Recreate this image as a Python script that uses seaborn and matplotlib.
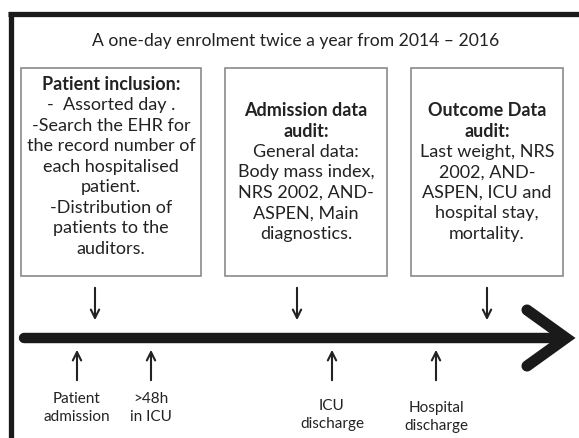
import matplotlib
matplotlib.use("Agg")
import matplotlib.pyplot as plt
import seaborn as sns

# text content of the diagram
title = "A one-day enrolment twice a year from 2014 \u2013 2016"

box_headings = [
    ["Patient inclusion:"],
    ["Admission data", "audit:"],
    ["Outcome Data", "audit:"],
]
box_bodies = [
    ["-  Assorted day .", "-Search the EHR for", "the record number of",
     "each hospitalised", "patient.", "-Distribution of",
     "patients to the", "auditors."],
    ["General data:", "Body mass index,", "NRS 2002, AND-",
     "ASPEN, Main", "diagnostics."],
    ["Last weight, NRS", "2002, AND-", "ASPEN, ICU and",
     "hospital stay,", "mortality."],
]
events = ["Patient\nadmission", ">48h\nin ICU", "ICU\ndischarge", "Hospital\ndischarge"]

# layout (pixel coordinates, y grows downward)
box_x = [(21, 201), (225, 387), (411, 563)]
box_y = (69, 277)
box_text_top = [85, 111, 111]
line_pitch = 20.5
down_x = [95, 297, 487]
event_x = [77, 151, 332, 436]
event_label_y = [408, 408, 415, 417]
line_y = 339

text_col = "#222222"

sns.set_theme(style="white")
plt.rcParams["font.family"] = ["Lato", "DejaVu Sans"]

fig = plt.figure(figsize=(5.79, 4.39), dpi=100)
ax = fig.add_axes([0, 0, 1, 1])
ax.set_xlim(0, 579)
ax.set_ylim(439, 0)
ax.axis("off")

# outer frame (top and left only, the rest is cropped)
ax.plot([8, 579], [14.5, 14.5], color="#1a1a1a", lw=3.8, solid_capstyle="butt")
ax.plot([10.5, 10.5], [12.5, 439], color="#1a1a1a", lw=3.8, solid_capstyle="butt")

ax.text(296, 41, title, ha="center", va="center", fontsize=12.6, color=text_col)

for (x0, x1), heads, body, ytop in zip(box_x, box_headings, box_bodies, box_text_top):
    ax.add_patch(plt.Rectangle((x0, box_y[0]), x1 - x0, box_y[1] - box_y[0],
                               fill=False, edgecolor="#8a8a8a", lw=1.2))
    xc = (x0 + x1) / 2
    lines = [(h, "bold") for h in heads] + [(b, "normal") for b in body]
    for i, (txt, w) in enumerate(lines):
        ax.text(xc, ytop + i * line_pitch, txt, ha="center", va="center",
                fontsize=13, fontweight=w, color=text_col)

# arrows from boxes down to the timeline
for x in down_x:
    ax.annotate("", xy=(x, 324), xytext=(x, 286),
                arrowprops=dict(arrowstyle="->", color="#222222", lw=1.5,
                                mutation_scale=15))

# timeline
ax.plot([24, 562], [line_y, line_y], color="#1a1a1a", lw=7.5, solid_capstyle="round")
ax.plot([527, 566, 527], [line_y - 28, line_y, line_y + 28], color="#1a1a1a",
        lw=8, solid_capstyle="round", solid_joinstyle="miter")

# events below the timeline
for x, lab, ly in zip(event_x, events, event_label_y):
    ax.annotate("", xy=(x, 348), xytext=(x, 384),
                arrowprops=dict(arrowstyle="->", color="#222222", lw=1.5,
                                mutation_scale=15))
    ax.text(x, ly, lab, ha="center", va="center", fontsize=11,
            color=text_col, linespacing=1.4)

fig.savefig("out.png", dpi=100, facecolor="white")
